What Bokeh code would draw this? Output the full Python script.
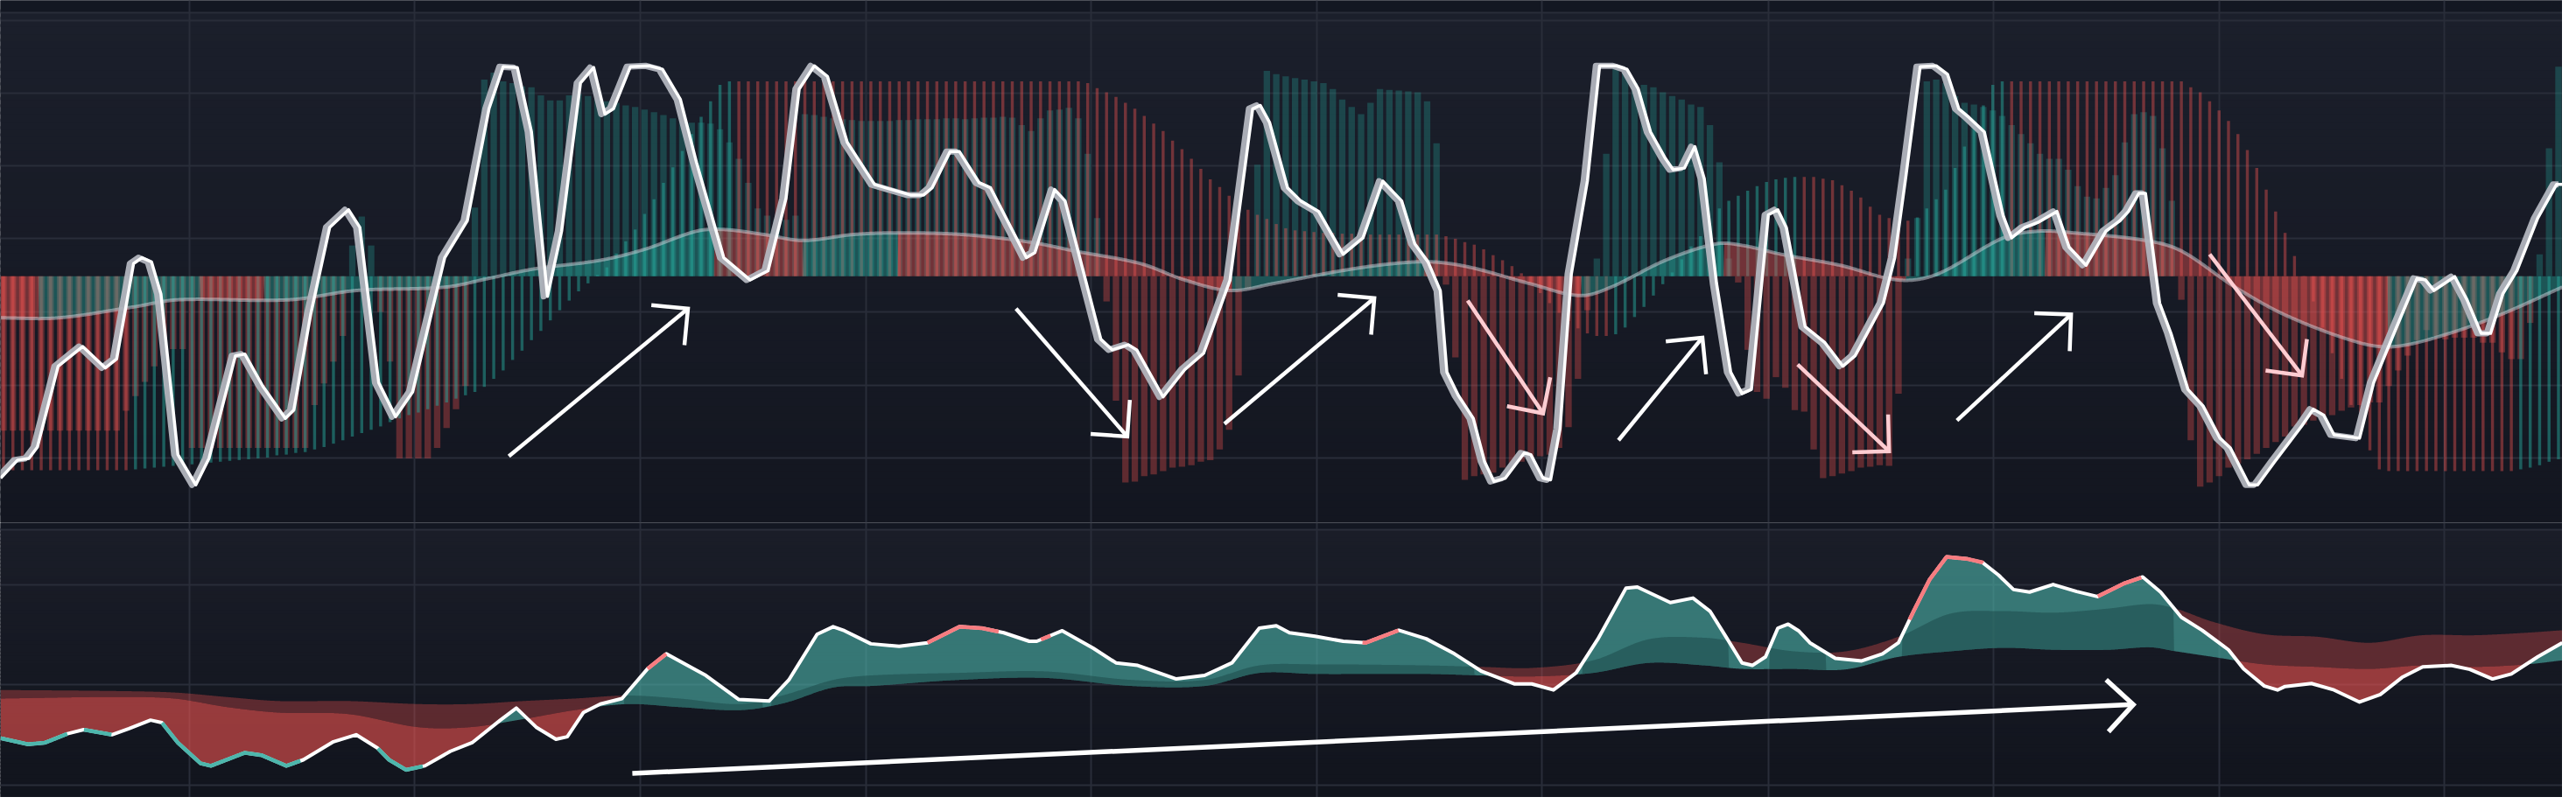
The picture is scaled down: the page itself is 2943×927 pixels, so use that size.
import numpy as np
from bokeh.plotting import figure
from bokeh.layouts import column
from bokeh.models import Range1d, Grid, FixedTicker
from bokeh.embed import file_html
from bokeh.resources import INLINE

# ---------------- data (bar index on x, oscillator values on y) ----------------
bar_index = list(range(272))

# thin histogram (0..100 scale, 50 = midline)
thin_hist = (
    [3.9] * 13
    + [3.9, 4.1, 4.3, 4.5, 4.7, 4.9, 5.1, 5.3, 5.5, 5.7, 5.9, 6.1, 6.3, 6.5, 6.7, 6.9, 7.4, 7.6, 8.0, 8.2,
       8.8, 9.4, 10.2, 11.0, 11.9, 12.7, 13.5, 14.3, 15.3, 16.2, 17.0, 17.6, 18.4, 19.2, 20.0, 20.9, 21.7, 22.5, 23.7, 25.6,
       27.6, 30.1, 32.3, 34.8, 37.0, 39.5, 41.9, 44.2, 46.4, 48.3, 50.3, 52.1, 55.4, 58.3, 61.1, 64.8, 68.3, 72.2, 75.9, 79.8,
       83.8, 87.9, 91.6, 95.5, 96.3]
    + [96.3] * 37
    + [95.9, 94.7, 93.7, 92.6, 91.2, 89.8, 88.1, 86.3, 84.5, 82.2, 80.2, 77.9, 75.5, 73.0, 71.2, 69.1, 67.3, 65.8, 64.6, 63.6,
       62.4, 61.4, 60.9, 60.7, 60.5, 60.3, 60.3, 60.1, 60.1]
    + [59.9] * 9
    + [59.5, 58.9, 58.1, 57.5, 56.4, 55.0, 53.8, 52.4, 50.7, 48.5, 46.0, 43.6, 41.3, 39.3, 37.6, 36.4, 35.8, 35.8, 36.2, 37.8,
       40.3, 42.7, 45.4, 48.1, 50.9, 54.0, 57.1, 59.5, 62.0, 66.1, 67.9, 69.1, 70.3, 71.4, 72.4, 73.0, 73.4, 73.6, 73.6, 73.6,
       73.2, 72.8, 71.6, 70.3, 68.7, 66.5, 64.6, 63.8, 63.4, 63.2, 64.0, 66.1, 68.3, 70.6, 75.7, 80.8, 86.5, 90.6, 95.5, 96.3]
    + [96.3] * 19
    + [94.9, 93.7, 91.6, 89.4, 86.9, 83.8, 80.0, 75.7, 70.6, 65.4, 60.3, 54.8, 49.9, 44.0, 37.8, 31.7, 25.6, 19.4, 13.3, 8.6, 4.1]
    + [3.7] * 14
    + [4.1, 4.5, 5.1, 5.9, 6.5]
)

# wide histogram
wide_hist = (
    [13.3] * 13
    + [18.0, 21.5, 24.9, 28.6, 31.1, 32.7, 32.7]
    + [9.2] * 13
    + [19.4, 24.5, 29.7, 35.8, 57.3, 64.2, 57.3, 41.5, 29.7]
    + [6.7, 6.7, 6.7, 6.7, 9.2]
    + [13.9, 18.4, 23.9, 66.3]
    + [96.7, 98.4, 96.3, 95.9, 95.1, 94.9, 93.0, 91.8, 91.8, 93.0, 93.3, 92.8, 92.2, 91.6, 91.2, 90.6, 90.2, 89.6, 89.0, 88.3,
       87.5, 86.9, 86.5, 86.5, 86.3, 84.9, 81.8, 77.9, 72.2, 66.1, 64.4, 63.4, 63.4, 64.4]
    + [88.5, 88.3, 87.9, 87.5, 87.3, 87.1, 86.9, 86.9, 86.9, 86.9, 87.1, 87.1, 87.3, 87.3, 87.3, 87.5, 87.5, 87.3, 87.5, 87.7,
       87.7, 87.9, 87.7, 85.9, 84.5, 87.5, 89.4, 89.6, 90.0, 87.5, 79.1, 63.8]
    + [44.0, 20.4, 1.0, 1.2, 2.5, 2.9, 3.7, 4.5, 4.7, 5.1, 5.9, 6.3, 8.8, 13.5, 26.4, 47.0]
    + [76.5, 98.8, 98.0, 97.5, 97.1, 96.7, 96.3, 95.9, 94.5, 92.0, 90.2, 88.5, 91.2, 94.5, 94.3, 94.1, 93.9, 93.7, 91.6, 81.6]
    + [48.0, 30.7, 1.6, 2.5, 2.9, 3.3, 4.5, 5.1, 5.9, 6.7, 7.2, 7.6, 9.2, 14.1, 25.6, 41.9]
    + [54.2, 79.1, 99.8, 98.8, 95.9, 95.5, 94.9, 93.7, 92.8, 92.0, 90.8, 90.2, 85.9, 77.1, 54.2]
    + [48.5, 32.5, 22.5, 20.9, 26.0, 23.5, 18.2, 17.8, 8.8, 2.0, 2.5, 3.1, 3.7, 4.5, 4.7, 5.1, 4.9, 22.1]
    + [54.2, 63.8, 96.3, 96.7, 95.9, 92.8, 91.2, 90.8, 90.2, 89.4, 88.1, 85.9, 83.8, 81.6, 79.1, 77.9, 77.9, 75.3, 71.4, 68.9,
       68.5, 71.0, 74.0, 81.8, 88.5, 89.0, 88.1, 80.4, 67.9]
    + [44.4, 11.0, 0.0, 1.0, 2.5, 4.5, 5.5, 6.5, 7.8, 9.2, 10.6, 11.9, 14.3, 14.7, 15.7, 16.4, 17.0, 18.0, 18.8, 19.4,
       20.0, 20.0, 23.9, 27.6, 31.1, 34.8, 37.2, 35.8, 35.0, 35.4, 35.4, 35.4, 34.2, 34.2, 31.9, 30.3, 30.3, 38.9, 55.2, 80.4,
       99.8]
)

# fast oscillator line (K)
k_x = [-0.3, 1.5, 2.7, 3.6, 5.8, 8.4, 10.8, 12.0, 13.8, 14.7, 15.7, 16.7, 18.5, 20.4, 21.8, 24.6, 25.6, 27.5, 29.9, 30.8,
       32.6, 34.6, 36.6, 37.8, 39.8, 41.6, 43.4, 46.8, 49.2, 51.5, 53.0, 54.5, 56.0, 57.7, 59.2, 61.2, 62.6, 63.8, 64.7, 66.5,
       68.5, 69.9, 71.8, 73.5, 76.4, 79.2, 81.1, 83.0, 84.4, 86.0, 87.4, 89.5, 92.4, 94.2, 96.2, 97.6, 98.5, 100.4, 101.4, 103.5,
       104.7, 108.5, 109.4, 111.5, 112.6, 116.4, 117.6, 119.3, 120.2, 123.0, 125.3, 127.3, 130.1, 132.5, 133.3, 134.3, 136.2,
       137.6, 139.5, 142.1, 144.2, 146.3, 148.3, 149.7, 151.1, 152.4, 153.1, 154.3, 155.9, 157.1, 158.1, 159.3, 161.3, 162.0,
       163.3, 164.1, 165.1, 166.3, 168.0, 169.3, 171.1, 172.2, 173.4, 174.7, 176.3, 177.1, 178.3, 179.4, 180.4, 181.7, 183.2,
       184.4, 185.4, 187.2, 188.2, 189.1, 191.1, 193.2, 195.1, 196.4, 199.4, 200.6, 201.8, 203.3, 205.0, 206.2, 207.4, 208.5,
       210.1, 212.1, 213.0, 214.4, 215.8, 217.8, 219.1, 220.9, 223.0, 224.5, 225.4, 226.5, 227.2, 228.7, 229.9, 231.7, 233.3,
       235.1, 236.2, 238.2, 239.1, 240.9, 243.8, 245.0, 246.1, 247.2, 249.9, 251.4, 253.7, 256.0, 256.9, 257.8, 260.0, 261.3,
       262.8, 263.8, 265.1, 266.6, 268.8, 270.8, 271.4]
k_v = [2.0, 6.3, 6.7, 9.4, 28.6, 33.3, 28.2, 30.3, 53.0, 54.4, 53.4, 45.8, 7.6, 0.4, 6.7, 31.1, 31.5, 23.9, 16.2, 18.2,
       41.1, 61.6, 65.8, 61.6, 24.7, 16.6, 22.5, 54.4, 63.2, 89.8, 99.8, 99.6, 84.3, 45.2, 60.7, 95.9, 99.6, 88.5, 89.8, 99.8,
       100.0, 99.2, 92.0, 77.1, 54.4, 49.1, 51.3, 68.5, 94.5, 100.0, 97.5, 81.8, 71.8, 70.6, 69.3, 69.3, 71.0, 79.6, 79.6, 72.2,
       71.0, 54.4, 55.6, 70.6, 67.9, 35.0, 32.5, 33.7, 32.5, 21.3, 27.8, 31.7, 49.1, 89.8, 90.6, 86.5, 71.0, 67.9, 65.4, 55.2,
       59.1, 72.6, 67.9, 57.7, 53.4, 46.6, 27.2, 21.7, 16.2, 5.9, 1.2, 2.0, 8.0, 7.6, 2.0, 1.6, 13.7, 50.5, 72.6, 100.0,
       100.0, 99.2, 94.5, 84.3, 77.9, 75.3, 75.7, 80.8, 73.2, 48.3, 27.2, 22.1, 23.1, 64.6, 65.8, 61.6, 38.0, 34.2, 28.6, 31.1,
       43.6, 54.4, 74.0, 99.8, 100.0, 98.0, 89.8, 87.7, 84.3, 64.4, 59.1, 61.6, 62.8, 65.4, 56.9, 52.6, 60.7, 63.2, 65.4, 69.7,
       69.7, 43.6, 36.4, 23.1, 19.2, 11.5, 9.2, 0.4, 0.4, 5.9, 14.5, 18.4, 17.0, 12.3, 11.5, 24.7, 37.2, 49.5, 49.1, 46.6,
       49.9, 44.4, 36.4, 36.4, 45.8, 51.3, 63.8, 71.8, 71.8]

# slow signal line
slow_x = [-0.3, 5.8, 13.8, 18.5, 30.3, 37.4, 46.8, 51.5, 56.2, 63.3, 68.0, 73.5, 76.4, 80.7, 84.8, 90.1, 94.8, 101.8,
          108.9, 113.6, 120.6, 125.3, 130.1, 134.8, 141.9, 147.4, 151.6, 155.6, 161.8, 167.2, 170.5, 176.3, 181.7, 184.5,
          188.6, 194.8, 201.0, 205.1, 212.1, 215.8, 219.6, 227.2, 231.0, 236.7, 242.3, 249.9, 253.7, 259.4, 265.1, 271.4]
slow_v = [40.1, 40.1, 42.7, 44.4, 44.4, 46.6, 47.4, 49.5, 51.7, 53.8, 56.4, 60.7, 61.1, 59.9, 58.5, 59.9, 60.3, 59.9,
          58.1, 56.0, 53.0, 49.1, 46.6, 48.3, 51.3, 53.0, 53.4, 52.1, 48.3, 45.4, 47.4, 53.8, 57.7, 57.3, 55.2, 52.6, 49.1,
          50.5, 59.1, 60.7, 60.3, 58.5, 56.0, 47.4, 40.5, 34.2, 33.3, 36.4, 41.1, 47.4]

# lower panel oscillator
osc_x = [-0.3, 2.6, 4.4, 6.8, 8.5, 11.5, 13.3, 15.6, 16.8, 18.5, 20.9, 22.0, 25.6, 27.4, 30.0, 31.8, 35.0, 37.4, 39.7, 40.9,
         42.7, 44.7, 47.4, 49.7, 52.7, 54.4, 56.5, 58.6, 59.8, 61.5, 63.3, 65.6, 68.3, 70.3, 74.5, 78.0, 81.2, 83.3, 86.3, 88.0,
         89.2, 92.0, 95.0, 98.0, 101.4, 103.8, 106.1, 108.8, 109.6, 112.3, 115.6, 118.0, 120.3, 124.4, 127.4, 130.3, 133.2,
         135.0, 136.4, 139.1, 142.1, 144.5, 148.0, 150.9, 153.9, 156.8, 160.3, 162.1, 164.4, 166.8, 169.1, 172.1, 173.3, 176.8,
         179.2, 181.0, 182.7, 184.4, 185.5, 186.9, 188.2, 189.3, 190.4, 191.6, 194.3, 197.1, 199.3, 201.0, 202.6, 204.3, 206.1,
         208.3, 209.9, 211.6, 213.2, 214.9, 217.4, 219.9, 222.1, 224.9, 226.9, 228.8, 231.0, 233.2, 236.0, 237.6, 239.8, 241.2,
         242.0, 244.8, 247.2, 249.9, 252.1, 254.4, 256.6, 259.6, 261.6, 264.0, 266.0, 268.8, 271.4]
osc_v = [-10.6, -11.8, -11.5, -9.7, -8.9, -9.9, -8.7, -7.0, -7.5, -11.5, -15.6, -16.1, -13.5, -14.0, -16.1, -14.9, -11.3,
         -9.9, -12.6, -14.9, -16.9, -16.1, -13.2, -11.5, -7.0, -4.6, -8.4, -10.8, -10.3, -5.5, -3.8, -2.7, 3.2, 6.2, 1.9, -2.9,
         -3.2, 1.0, 10.1, 11.6, 10.8, 8.2, 7.7, 8.4, 11.6, 11.3, 10.4, 8.7, 8.7, 10.8, 7.3, 4.4, 3.9, 1.2, 1.9, 4.4, 11.3, 11.8,
         10.4, 9.7, 8.7, 8.4, 10.9, 9.2, 6.2, 2.7, 0.2, 0.2, -1.0, 2.4, 9.1, 19.3, 19.5, 16.4, 17.3, 14.7, 9.6, 4.4, 3.9, 5.6,
         11.3, 12.1, 10.8, 8.4, 5.3, 4.8, 6.2, 8.4, 14.7, 21.0, 25.5, 25.1, 24.4, 21.9, 19.0, 18.5, 20.0, 18.6, 17.6, 20.2,
         21.5, 18.5, 13.5, 10.9, 7.0, 3.2, -0.2, -1.0, -0.3, 0.3, -1.0, -3.4, -1.9, 1.5, 3.6, 3.9, 3.1, 1.2, 2.2, 5.6, 8.4]

# lower panel signal lines
sig_x = [-0.3, 11.7, 18.1, 23.7, 29.2, 36.6, 44.0, 49.5, 55.1, 60.6, 66.2, 71.7, 78.2, 82.8, 88.0, 92.0, 101.2, 110.5,
         119.7, 127.4, 133.2, 139.1, 150.9, 156.8, 162.2, 168.6, 174.5, 180.4, 184.4, 189.9, 195.4, 201.0, 206.5, 212.1,
         217.6, 223.2, 227.7, 230.4, 234.3, 239.8, 245.4, 251.0, 256.5, 262.1, 267.6, 271.4]
sig_fast = [-1.0, -1.2, -1.5, -2.4, -3.2, -3.2, -3.8, -3.8, -3.2, -2.7, -2.1, -2.7, -3.8, -2.0, 1.0, 1.9, 2.4, 2.7, 1.0,
            1.0, 3.9, 4.1, 3.9, 3.6, 3.4, 4.9, 9.1, 9.4, 8.4, 6.7, 6.7, 9.6, 14.2, 14.7, 14.4, 15.2, 16.1, 15.2, 12.6, 10.1,
            9.6, 8.4, 9.9, 9.9, 10.4, 10.9]
sig_slow = [-2.7, -2.4, -2.7, -4.4, -5.5, -5.8, -8.4, -8.4, -6.8, -5.0, -3.8, -4.4, -5.0, -3.6, -0.5, -0.2, 1.0, 1.4, -0.2,
            -0.2, 2.4, 2.2, 2.2, 1.9, 1.7, 2.4, 4.4, 3.9, 3.2, 3.2, 3.1, 5.6, 6.7, 7.4, 7.0, 7.0, 7.5, 6.7, 5.6, 4.1, 3.6,
            3.2, 3.9, 3.6, 4.1, 4.9]

# highlighted stretches of the lower oscillator (bar index from, to)
oversold_from = [-0.3, 8.5, 16.8, 39.7]
oversold_to = [6.8, 11.5, 31.5, 44.5]
overbought_from = [68.3, 98.0, 110.0, 144.1, 202.1, 222.1]
overbought_to = [70.3, 105.6, 111.1, 148.0, 210.0, 226.8]

# annotation arrows (bar index, value)
arrow_tail_x = [53.6, 107.4, 129.5, 155.3, 171.3, 190.3, 207.2, 234.0]
arrow_tail_v = [7.2, 42.3, 14.9, 44.2, 11.0, 29.0, 15.7, 55.2]
arrow_tip_x = [72.6, 119.2, 145.4, 163.3, 180.2, 200.0, 219.3, 243.8]
arrow_tip_v = [42.3, 11.9, 44.8, 17.4, 35.4, 8.4, 40.9, 26.4]
arrow_tone = ["bull", "bull", "bull", "bear", "bull", "bear", "bull", "bear"]
trend_tail = (66.7, -17.6)
trend_tip = (225.9, -3.9)

grid_x = [19.7, 43.6, 67.5, 91.5, 115.4, 139.3, 163.2, 187.2, 211.1, 235.0, 258.9]
grid_top_y = [6.7, 24.1, 41.5, 58.9, 76.3, 93.5, 110.8, 112.6]
grid_bot_y = [-20.0, 0.0, 20.0, 30.9]
MID = 50.0

# ---------------- style ----------------
W_FIG, H_TOP, H_BOT = 2927, 597, 314
X0, X1 = -0.323, 271.42
TY0, TY1 = -8.59, 115.54
BY0, BY1 = -22.39, 32.30
TEAL, RED = "#26a69a", "#ef5350"
BG = "#131722"
GRID = "#292d39"


def hermite(xs, ys, xd):
    xs = np.asarray(xs, float)
    ys = np.asarray(ys, float)
    n = len(xs)
    m = np.zeros(n)
    m[1:-1] = (ys[2:] - ys[:-2]) / (xs[2:] - xs[:-2])
    m[0] = (ys[1] - ys[0]) / (xs[1] - xs[0])
    m[-1] = (ys[-1] - ys[-2]) / (xs[-1] - xs[-2])
    k = np.clip(np.searchsorted(xs, xd) - 1, 0, n - 2)
    h = xs[k + 1] - xs[k]
    t = (xd - xs[k]) / h
    h00 = 2 * t**3 - 3 * t**2 + 1
    h10 = t**3 - 2 * t**2 + t
    h01 = -2 * t**3 + 3 * t**2
    h11 = t**3 - t**2
    return h00 * ys[k] + h10 * h * m[k] + h01 * ys[k + 1] + h11 * h * m[k + 1]


def make_fig(h, y0, y1, xr):
    p = figure(width=W_FIG, height=h, x_range=xr, y_range=Range1d(y0, y1),
               output_backend="svg", toolbar_location=None,
               x_axis_location=None, y_axis_location=None, min_border=0)
    for g in list(p.grid):
        g.visible = False
    p.outline_line_color = None
    p.background_fill_color = BG
    p.border_fill_color = BG
    return p


def gradient(p, y0, y1, top_rgb, bot_rgb, n=70):
    edges = np.linspace(y0, y1, n + 1)
    t = (np.arange(n) + 0.5) / n
    cols = ["#%02x%02x%02x" % tuple(int(round(b + (a - b) * tt)) for a, b in zip(top_rgb, bot_rgb)) for tt in t]
    ov = (y1 - y0) / n * 0.4
    p.quad(left=X0 - 2, right=X1 + 2, bottom=edges[:-1], top=edges[1:] + ov,
           fill_color=cols, line_color=None, level="image")


def add_grid(p, ys):
    p.add_layout(Grid(dimension=0, ticker=FixedTicker(ticks=grid_x), grid_line_color=GRID, grid_line_width=2))
    p.add_layout(Grid(dimension=1, ticker=FixedTicker(ticks=ys), grid_line_color=GRID, grid_line_width=2))


def draw_arrow(p, tail, tip, sx, sy, head_px, color, width):
    dx = (tip[0] - tail[0]) * sx
    dy = (tip[1] - tail[1]) * sy
    L = np.hypot(dx, dy)
    ux, uy = -dx / L, -dy / L
    c = s = np.sqrt(0.5)
    h1 = (ux * c - uy * s, ux * s + uy * c)
    h2 = (ux * c + uy * s, -ux * s + uy * c)
    e1 = (tip[0] + h1[0] * head_px / sx, tip[1] + h1[1] * head_px / sy)
    e2 = (tip[0] + h2[0] * head_px / sx, tip[1] + h2[1] * head_px / sy)
    p.multi_line(xs=[[tail[0], tip[0]], [e1[0], tip[0], e2[0]]],
                 ys=[[tail[1], tip[1]], [e1[1], tip[1], e2[1]]],
                 line_color=color, line_width=width, line_join="miter", line_cap="butt")


xr = Range1d(X0, X1)

# ---------------- top panel ----------------
top = make_fig(H_TOP, TY0, TY1, xr)
gradient(top, TY0, 112.7, (27, 31, 43), (19, 22, 32))
top.quad(left=X0 - 2, right=X1 + 2, bottom=112.7, top=TY1 + 1, fill_color=BG, line_color=None, level="image")
add_grid(top, grid_top_y)

wide = np.array(wide_hist)
thin = np.array(thin_hist)
w_up = wide > MID
top.vbar(x=bar_index, width=0.68, bottom=MID, top=wide,
         fill_color=[TEAL if u else RED for u in w_up],
         fill_alpha=[0.30 if u else 0.34 for u in w_up], line_color=None)
t_rise = np.r_[False, np.diff(thin) > 0]
top.vbar(x=bar_index, width=0.32, bottom=MID, top=thin,
         fill_color=[TEAL if u else RED for u in t_rise],
         fill_alpha=[0.5 if u else 0.42 for u in t_rise], line_color=None)

xd = np.linspace(slow_x[0], slow_x[-1], 3000)
sd = hermite(slow_x, slow_v, xd)
rise = np.gradient(sd) > 0
top.varea(x=xd, y1=np.full_like(xd, MID), y2=np.where(rise, sd, MID), fill_color=TEAL, fill_alpha=0.42)
top.varea(x=xd, y1=np.full_like(xd, MID), y2=np.where(~rise, sd, MID), fill_color=RED, fill_alpha=0.42)
top.line(xd, sd, line_color="#d1d4dc", line_alpha=0.5, line_width=4)

top.line(list(np.array(k_x) - 0.4), k_v, line_color="#b2b5be", line_width=7, line_alpha=0.95, line_join="round")
top.line(k_x, k_v, line_color="#ffffff", line_width=3.5, line_join="round")

sx = W_FIG / (X1 - X0)
sy_top = H_TOP / (TY1 - TY0)
tone_color = {"bull": "#ffffff", "bear": "#ffcdd2"}
for tx, tv, hx, hv, tone in zip(arrow_tail_x, arrow_tail_v, arrow_tip_x, arrow_tip_v, arrow_tone):
    draw_arrow(top, (tx, tv), (hx, hv), sx, sy_top, 42, tone_color[tone], 4.5)

# ---------------- bottom panel ----------------
bot = make_fig(H_BOT, BY0, BY1, xr)
gradient(bot, BY0, 30.9, (26, 29, 40), (17, 20, 29))
bot.quad(left=X0 - 2, right=X1 + 2, bottom=30.9, top=BY1 + 1, fill_color=BG, line_color=None, level="image")
add_grid(bot, grid_bot_y)

xb = np.linspace(osc_x[0], osc_x[-1], 4000)
wd = np.interp(xb, osc_x, osc_v)
l2 = hermite(sig_x, sig_fast, xb)
l3 = hermite(sig_x, sig_slow, xb)
c3 = wd > l3
c2 = wd > l2
bot.varea(x=xb, y1=l3, y2=np.where(c3, wd, l3), fill_color="#4db6ac", fill_alpha=0.6)
bot.varea(x=xb, y1=np.where(~c3, wd, l3), y2=l3, fill_color=RED, fill_alpha=0.6)
dark_lo = np.where(c3, np.maximum(wd, l3), l3)
bot.varea(x=xb, y1=l3, y2=np.where(c2, l2, l3), fill_color="#1d4a4a", fill_alpha=0.55)
bot.varea(x=xb, y1=np.where(~c2, dark_lo, l2), y2=np.where(~c2, np.maximum(l2, dark_lo), l2),
          fill_color=RED, fill_alpha=0.33)

bot.line(osc_x, osc_v, line_color="#ffffff", line_width=4, line_join="round")
for a_list, b_list, col in ((oversold_from, oversold_to, "#4db6ac"), (overbought_from, overbought_to, "#f77c80")):
    xs, ys = [], []
    for a, b in zip(a_list, b_list):
        m = (xb >= a) & (xb <= b)
        xs.append(list(xb[m]))
        ys.append(list(wd[m]))
    bot.multi_line(xs=xs, ys=ys, line_color=col, line_width=4.5)

sy_bot = H_BOT / (BY1 - BY0)
draw_arrow(bot, trend_tail, trend_tip, sx, sy_bot, 42, "#ffffff", 5.5)

layout = column(top, bot, spacing=0)
open("out.html", "w").write(file_html(layout, INLINE))
